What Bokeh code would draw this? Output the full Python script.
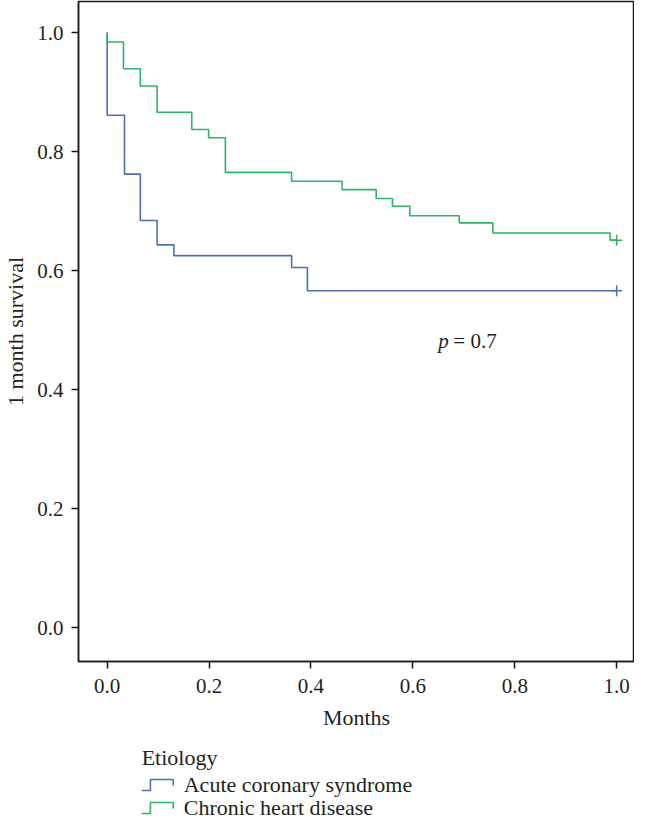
from bokeh.plotting import figure
from bokeh.layouts import column
from bokeh.models import Range1d, FixedTicker, PrintfTickFormatter
from bokeh.core.properties import value
from bokeh.embed import file_html
from bokeh.resources import INLINE

# ---- data ----
groups = ["Acute coronary syndrome", "Chronic heart disease"]
legend_title = "Etiology"
colors = ["#4f6fb3", "#2eb36a"]

times_acs = [0.0, 0.0, 0.034, 0.065, 0.098, 0.131, 0.362, 0.393, 1.0]
surv_acs = [1.0, 0.861, 0.762, 0.684, 0.643, 0.625, 0.605, 0.566, 0.566]

times_chd = [0.0, 0.0, 0.032, 0.065, 0.098, 0.166, 0.199, 0.232, 0.362,
             0.461, 0.528, 0.560, 0.594, 0.691, 0.757, 0.987, 1.0]
surv_chd = [1.0, 0.984, 0.939, 0.910, 0.866, 0.837, 0.823, 0.765, 0.750,
            0.736, 0.721, 0.708, 0.692, 0.680, 0.663, 0.651, 0.651]

censor_t_acs = [1.0]
censor_s_acs = [0.566]
censor_t_chd = [1.0]
censor_s_chd = [0.651]

ticks = [0.0, 0.2, 0.4, 0.6, 0.8, 1.0]
x_label = "Months"
y_label = "1 month survival"
p_text_x = 0.650
p_text_y = 0.482
p_label = "p"
p_value_text = "= 0.7"

FONT = "Liberation Serif"
TXT = "#231f20"

p = figure(width=634, height=736,
           x_range=Range1d(-0.0563, 1.0350), y_range=Range1d(-0.0571, 1.0521),
           output_backend="svg", toolbar_location=None,
           min_border_left=72, min_border_right=0, min_border_top=1,
           min_border_bottom=75)
p.xgrid.visible = False
p.ygrid.visible = False
p.outline_line_color = "#1a1a1a"
p.outline_line_width = 1.5
p.background_fill_color = "white"
p.border_fill_color = "white"

for ax in (p.xaxis[0], p.yaxis[0]):
    ax.ticker = FixedTicker(ticks=ticks)
    ax.formatter = PrintfTickFormatter(format="%.1f")
    ax.major_tick_out = 7
    ax.major_tick_in = 0
    ax.minor_tick_out = 0
    ax.minor_tick_in = 0
    ax.axis_line_color = "#1a1a1a"
    ax.axis_line_width = 1.5
    ax.major_tick_line_color = "#1a1a1a"
    ax.major_tick_line_width = 1.5
    ax.major_label_text_font = FONT
    ax.major_label_text_font_size = "21px"
    ax.major_label_text_color = TXT
    ax.axis_label_text_font = FONT
    ax.axis_label_text_font_size = "22px"
    ax.axis_label_text_font_style = "normal"
    ax.axis_label_text_color = TXT

p.xaxis.axis_label = x_label
p.yaxis.axis_label = y_label
p.xaxis.major_label_standoff = 10
p.xaxis.axis_label_standoff = 9
p.yaxis.major_label_standoff = 8
p.yaxis.axis_label_standoff = 6

p.step(times_acs, surv_acs, mode="after", line_color=colors[0], line_width=1.6)
p.step(times_chd, surv_chd, mode="after", line_color=colors[1], line_width=1.6)
p.scatter(censor_t_acs, censor_s_acs, marker="cross", size=11,
          line_color=colors[0], line_width=1.5)
p.scatter(censor_t_chd, censor_s_chd, marker="cross", size=11,
          line_color=colors[1], line_width=1.5)

p.text(x=[p_text_x], y=[p_text_y], text=[p_label], text_font=value(FONT),
       text_font_size="21px", text_font_style="italic", text_color=TXT,
       text_baseline="middle", text_align="left")
p.text(x=[p_text_x], y=[p_text_y], text=[p_value_text], text_font=value(FONT),
       text_font_size="21px", text_color=TXT, x_offset=15,
       text_baseline="middle", text_align="left")

# ---- legend panel below (coordinates are pixels of the picture) ----
leg = figure(width=634, height=83, x_range=Range1d(5, 639),
             y_range=Range1d(819, 736), output_backend="svg",
             toolbar_location=None, x_axis_type=None, y_axis_type=None,
             min_border=0)
leg.xgrid.visible = False
leg.ygrid.visible = False
leg.outline_line_color = None
leg.background_fill_color = "white"
leg.border_fill_color = "white"

title_y = 757
row_y = [784, 807]
leg.text(x=[77], y=[title_y], text=[legend_title], text_font=value(FONT),
         text_font_size="22px", text_color=TXT, text_baseline="middle",
         text_align="left")
for name, col, cy in zip(groups, colors, row_y):
    leg.line(x=[77, 87, 87, 113, 113], y=[cy + 6, cy + 6, cy - 5, cy - 5, cy + 1],
             line_color=col, line_width=1.6)
    leg.text(x=[125], y=[cy], text=[name], text_font=value(FONT),
             text_font_size="22px", text_color=TXT, text_baseline="middle",
             text_align="left")

layout = column(p, leg, spacing=0)
open("out.html", "w").write(file_html(layout, INLINE))
